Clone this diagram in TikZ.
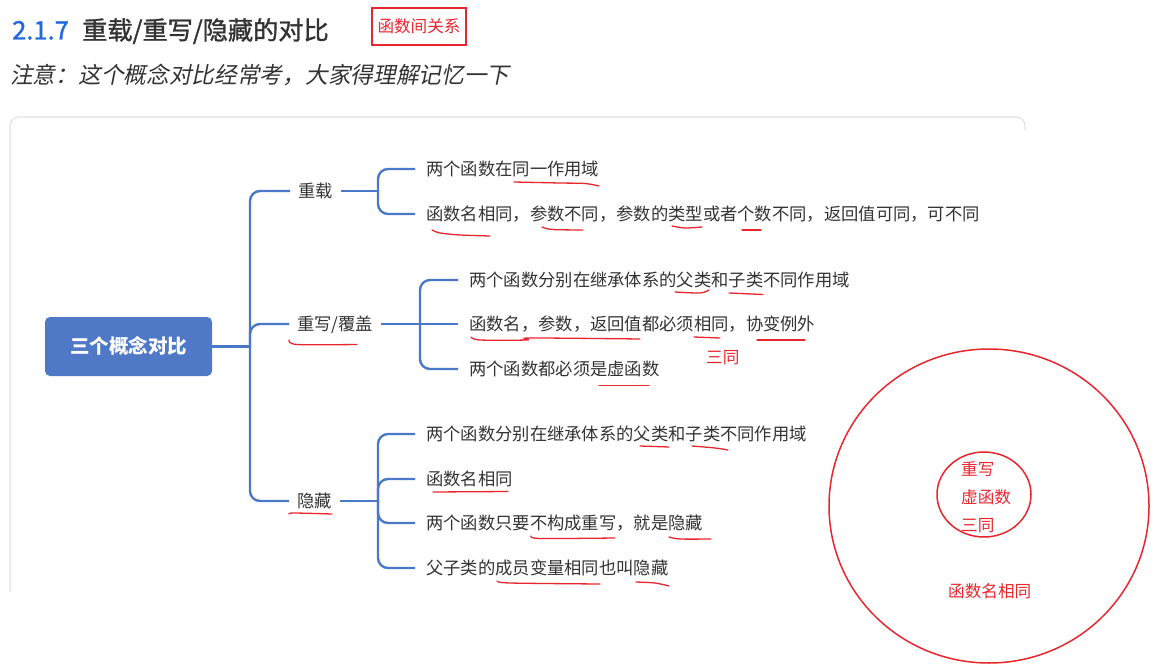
\documentclass[tikz,border=0pt]{standalone}
\usepackage{fontspec}
\setmainfont{Noto Sans CJK SC}
\newfontfamily\cjkit[FakeSlant=0.2]{Noto Sans CJK SC}
\newfontfamily\cjkmed[FakeBold=1.3]{Noto Sans CJK SC}
\usetikzlibrary{calc}
\definecolor{txt}{HTML}{333333}
\definecolor{conn}{HTML}{4A78C8}
\definecolor{rootc}{HTML}{4F79C6}
\definecolor{mark}{HTML}{E8262E}
\definecolor{numblue}{HTML}{2468E0}
\definecolor{frame}{HTML}{E2E2E2}
\begin{document}
\begin{tikzpicture}[x=1pt,y=-1pt,
 fs/.style={font=\fontsize{#1pt}{#1pt}\selectfont},
 txtnode/.style={inner sep=0pt, text height=13.2pt, text depth=0pt, text=txt, fs=17.3, anchor=west},
 lvl/.style={txtnode, inner xsep=8pt},
 leaf/.style={txtnode, inner xsep=11pt},
 link/.style={draw=conn, line width=2.4pt, rounded corners=10pt},
 pen/.style={draw=mark, line width=1.3pt, line cap=round, line join=round},
 redtxt/.style={inner sep=0pt, text height=12.6pt, text depth=0pt, text=mark, fs=16.6, anchor=west}]
\useasboundingbox (0,0) rectangle (1172,668);

% heading
\node[anchor=west, inner sep=0pt, text height=19pt, text depth=0pt, text=numblue, font=\cjkmed\fontsize{25.5pt}{26pt}\selectfont] (num) at (12,30) {2.1.7};
\node[anchor=west, inner sep=0pt, text height=19pt, text depth=0pt, text=txt, font=\cjkmed\fontsize{25.2pt}{26pt}\selectfont] (title) at (82,30) {重载/重写/隐藏的对比};
\node[draw=mark, line width=1.5pt, minimum width=94pt, minimum height=37pt, inner sep=0pt, text=mark, fs=16.6, text height=12.6pt, text depth=0pt] (rel) at (419,26.5) {函数间关系};
\node[anchor=west, inner sep=0pt, text height=17pt, text depth=0pt, text=txt, font=\cjkit\fontsize{22.7pt}{23pt}\selectfont] (note) at (10,75) {注意：这个概念对比经常考，大家得理解记忆一下};

% frame
\draw[draw=frame, line width=1.2pt, rounded corners=9pt] (10,592) -- (10,117) -- (1025,117) -- (1025,130);

% root
\node[fill=rootc, rounded corners=5pt, minimum width=167pt, minimum height=59pt, inner sep=0pt, text=white, font=\bfseries\fontsize{19.5pt}{20pt}\selectfont, text height=14.8pt, text depth=0pt] (root) at (128.5,346.5) {三个概念对比};
\coordinate (sp) at (250,346.5);
\draw[link] (root.east) -- (sp);

% level 1
\node[lvl] (cz) at (290,191) {重载};
\node[lvl] (cx) at (289,324) {重写/覆盖};
\node[lvl] (yc) at (289,501) {隐藏};
\draw[link] (cz.west) -| (sp);
\draw[link] (cx.west) -| (sp);
\draw[link] (yc.west) -| (sp);

% overload
\coordinate (b1) at (378,191);
\draw[link] (cz.east) -- (b1);
\node[leaf] (a1) at (415,169) {两个函数在同一作用域};
\node[leaf] (a2) at (415,214) {函数名相同，参数不同，参数的类型或者个数不同，返回值可同，可不同};
\draw[link] (a1.west) -| (b1);
\draw[link] (a2.west) -| (b1);

% override
\coordinate (b2) at (420,324);
\draw[link] (cx.east) -- (b2);
\node[leaf] (c1) at (458,280) {两个函数分别在继承体系的父类和子类不同作用域};
\node[leaf] (c2) at (458,324) {函数名，参数，返回值都必须相同，协变例外};
\node[leaf] (c3) at (458,369) {两个函数都必须是虚函数};
\draw[link] (c1.west) -| (b2);
\draw[link] (c2.west) -- (b2);
\draw[link] (c3.west) -| (b2);

% hiding
\coordinate (b3) at (378,501);
\draw[link] (yc.east) -- (b3);
\node[leaf] (d1) at (415,434) {两个函数分别在继承体系的父类和子类不同作用域};
\node[leaf] (d2) at (415,479) {函数名相同};
\node[leaf] (d3) at (415,523) {两个函数只要不构成重写，就是隐藏};
\node[leaf] (d4) at (415,568) {父子类的成员变量相同也叫隐藏};
\draw[link] (d1.west) -| (b3);
\draw[link] (d2.west) -| (b3);
\draw[link] (d3.west) -| (b3);
\draw[link] (d4.west) -| (b3);

% red hand underlines
\draw[pen] plot[smooth] coordinates {(514,182) (560,183) (585,183.5) (599,186)};
\draw[pen] plot[smooth] coordinates {(432,230) (440,233) (460,235) (490,236)};
\draw[pen] plot[smooth] coordinates {(542,227) (552,229.5) (583,230)};
\draw[pen] plot[smooth] coordinates {(672,226) (685,228) (702,227)};
\draw[pen] (742,230) -- (761,230);
\draw[pen] plot[smooth] coordinates {(289,340) (297,344.5) (357,344.5)};
\draw[pen] plot[smooth] coordinates {(675,292) (700,293) (709,290)};
\draw[pen] plot[smooth] coordinates {(729,293) (763,294.5)};
\draw[pen] plot[smooth] coordinates {(471,337) (480,340) (527,340) (530,338) (640,339)};
\draw[pen] (694,337) -- (720,338);
\draw[pen] (757,340) -- (805,340);
\draw[pen] (599,385.5) -- (649,385.5);
\draw[pen] plot[smooth] coordinates {(289,514) (294,513) (332,514)};
\draw[pen] (640,446) -- (669,447);
\draw[pen] plot[smooth] coordinates {(692,446) (715,448) (728,450)};
\draw[pen] (433,492) -- (508,491.5);
\draw[pen] plot[smooth] coordinates {(531,536) (540,538.5) (615,538)};
\draw[pen] plot[smooth] coordinates {(669,537) (680,539) (711,539)};
\draw[pen] plot[smooth] coordinates {(497,581) (510,583) (600,584)};
\draw[pen] plot[smooth] coordinates {(636,582) (655,583) (669,586)};

\node[redtxt] (st) at (706,357) {三同};

% circles
\draw[draw=mark, line width=1.5pt] (989,506) ellipse [x radius=160pt, y radius=157pt];
\draw[draw=mark, line width=1.5pt] (984,494.5) ellipse [x radius=47pt, y radius=42.5pt];
\node[redtxt] (e1) at (961,469) {重写};
\node[redtxt] (e2) at (961,497) {虚函数};
\node[redtxt] (e3) at (961,525) {三同};
\node[redtxt] (e4) at (948,591) {函数名相同};
\end{tikzpicture}
\end{document}
